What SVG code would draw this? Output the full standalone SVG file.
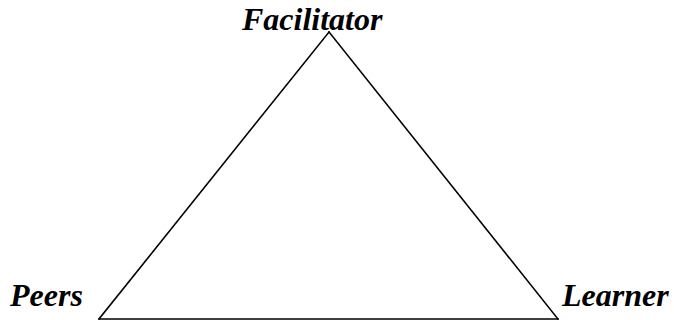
<svg xmlns="http://www.w3.org/2000/svg" width="674" height="320" viewBox="0 0 674 320">
<style>
.lbl{font-family:"Liberation Serif","Times New Roman",serif;font-weight:bold;font-style:italic;font-size:32px;fill:#000}
.edge{stroke:#000;stroke-width:1.6;fill:none;stroke-linecap:square}
</style>
<rect width="674" height="320" fill="#fff"/>
<g id="connectors">
<line class="edge" x1="329" y1="32" x2="99" y2="319"/>
<line class="edge" x1="329" y1="32" x2="558" y2="319"/>
<line class="edge" x1="99" y1="319" x2="558" y2="319"/>
</g>
<g id="facilitator"><text class="lbl" x="242" y="30">Facilitator</text></g>
<g id="peers"><text class="lbl" x="10" y="306">Peers</text></g>
<g id="learner"><text class="lbl" x="562" y="306">Learner</text></g>
</svg>
